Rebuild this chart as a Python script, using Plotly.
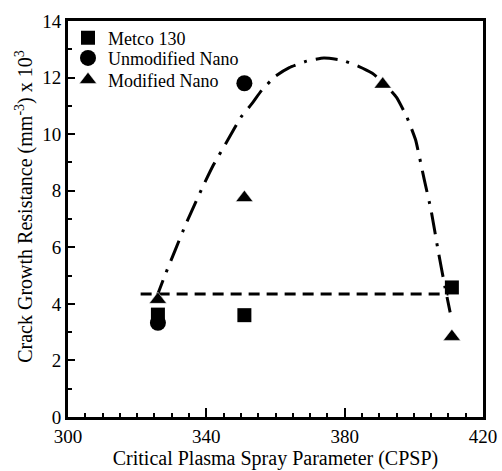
import plotly.graph_objects as go

# ---- data ----
metco_x = [326, 351, 411]
metco_y = [3.62, 3.6, 4.58]
unmod_x = [326, 351]
unmod_y = [3.33, 11.8]
mod_x = [326, 351, 391, 411]
mod_y = [4.15, 7.75, 11.76, 2.84]

flat_x = [321, 410]
flat_y = [4.35, 4.35]

curve_x = [325.2, 328, 331, 334, 339, 342, 346, 350, 353, 356, 360, 364, 369, 374, 379,
           384, 388, 391, 395, 398, 400.5, 403, 405, 407, 409, 410.5]
curve_y = [4.1, 5.0, 5.9, 6.8, 8.15, 8.9, 9.75, 10.6, 11.05, 11.55, 12.05, 12.35, 12.58,
           12.69, 12.62, 12.4, 12.15, 11.85, 11.3, 10.6, 9.8, 8.4, 7.3, 5.9, 4.6, 3.7]

y_title = "Crack Growth Resistance (mm<sup>-3</sup>) x 10<sup>3</sup>"
x_title = "Critical Plasma Spray Parameter (CPSP)"

FONT = "Times New Roman, Liberation Serif, DejaVu Serif, serif"

fig = go.Figure()

fig.add_trace(go.Scatter(x=curve_x, y=curve_y, mode="lines", showlegend=False,
                         line=dict(color="black", width=3, shape="spline", smoothing=0.4,
                                   dash="22px,9px,3px,9px"), hoverinfo="skip"))
fig.add_trace(go.Scatter(x=flat_x, y=flat_y, mode="lines", showlegend=False,
                         line=dict(color="black", width=3, dash="11px,7px"), hoverinfo="skip"))

fig.add_trace(go.Scatter(x=unmod_x, y=unmod_y, mode="markers", name="Unmodified Nano",
                         legend="legend2",
                         marker=dict(symbol="circle", size=16, color="black")))
fig.add_trace(go.Scatter(x=metco_x, y=metco_y, mode="markers", name="Metco 130",
                         legend="legend",
                         marker=dict(symbol="square", size=14, color="black")))
fig.add_trace(go.Scatter(x=mod_x, y=mod_y, mode="markers", name="Modified Nano",
                         legend="legend3",
                         marker=dict(symbol="triangle-up", size=15, color="black",
                                     line=dict(color="white", width=0.5))))

leg_common = dict(x=0.0, xanchor="left", yanchor="middle", bgcolor="rgba(0,0,0,0)",
                  font=dict(size=18, family=FONT), itemwidth=30)

fig.update_layout(
    width=502, height=471,
    margin=dict(l=68, r=19, t=21, b=54),
    paper_bgcolor="white", plot_bgcolor="white",
    font=dict(family=FONT, size=18, color="black"),
    showlegend=True,
    legend=dict(y=0.957, **leg_common),
    legend2=dict(y=0.906, **leg_common),
    legend3=dict(y=0.851, **leg_common),
    xaxis=dict(range=[300, 420], tickvals=[300, 340, 380, 420], automargin=False,
               ticks="inside", ticklen=9, tickwidth=2, tickcolor="black",
               minor=dict(dtick=5, ticks="inside", ticklen=4, tickwidth=1.5, tickcolor="black"),
               showline=True, linewidth=3, linecolor="black", mirror=True,
               showgrid=False, zeroline=False,
               title=dict(text=x_title, standoff=4, font=dict(size=20, family=FONT)),
               tickfont=dict(size=19, family=FONT)),
    yaxis=dict(range=[0, 14], dtick=2, tick0=0, automargin=False,
               ticks="inside", ticklen=7, tickwidth=2, tickcolor="black",
               minor=dict(dtick=1, ticks="inside", ticklen=4, tickwidth=1.5, tickcolor="black"),
               showline=True, linewidth=3, linecolor="black", mirror=True,
               showgrid=False, zeroline=False,
               tickfont=dict(size=19, family=FONT)),
    annotations=[dict(text=y_title, xref="paper", yref="paper", x=-0.104, y=0.533,
                      xanchor="center", yanchor="middle", textangle=-90, showarrow=False,
                      font=dict(size=20, family=FONT, color="black"))],
)

fig.write_html("out.html", config={"displayModeBar": False},
               post_script="document.body.style.margin='0';document.body.style.overflow='hidden';")
